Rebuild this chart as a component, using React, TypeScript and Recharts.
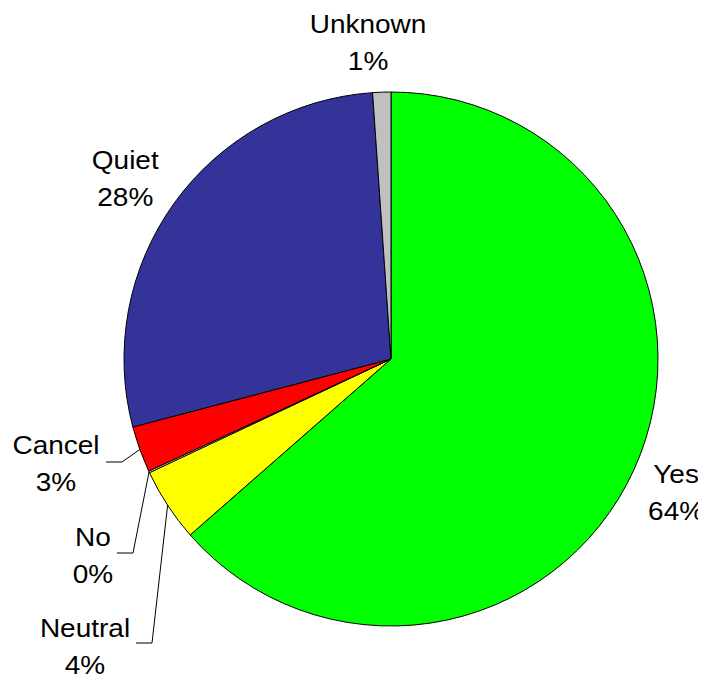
import React from 'react';
import { PieChart, Pie, Cell } from 'recharts';

const categories = ['Yes', 'Neutral', 'No', 'Cancel', 'Quiet', 'Unknown'];
const shares = [63.55, 4.45, 0.1, 2.8, 28.0, 1.1];
const colors = ['#00FF00', '#FFFF00', '#FFFFFF', '#FF0000', '#333399', '#C0C0C0'];

const data = categories.map((name, i) => ({ name, value: shares[i] }));

const RAD = Math.PI / 180;
const FONT = 25;
const SX = 1.12;
const LINE = 37;

type Layout = {
  gap?: number;
  nx?: number;
  ny?: number;
  elbow?: [number, number];
  hx?: number;
  text?: [number, number];
};

const labelLayout: Record<string, Layout> = {
  Yes: { gap: 46, nx: 0, ny: 4 },
  Quiet: { gap: 60, nx: 0, ny: 10 },
  Unknown: { gap: 50, nx: -12, ny: 0 },
  Cancel: { elbow: [-269, 103], hx: -285, text: [-335, 95] },
  No: { elbow: [-258, 194], hx: -274, text: [-298, 187] },
  Neutral: { elbow: [-239, 284], hx: -255, text: [-306, 278] },
};

const renderLabel = (props: any) => {
  const { cx, cy, midAngle, outerRadius, percent, index } = props;
  const name = categories[index];
  const L = labelLayout[name];
  const pct = `${Math.round(percent * 100)}%`;
  let tx: number;
  let ty: number;
  let line: React.ReactNode = null;
  if (L.elbow) {
    const sx = cx + outerRadius * Math.cos(-midAngle * RAD);
    const sy = cy + outerRadius * Math.sin(-midAngle * RAD);
    const ex = cx + L.elbow[0];
    const ey = cy + L.elbow[1];
    line = (
      <polyline
        points={`${sx},${sy} ${ex},${ey} ${cx + (L.hx as number)},${ey}`}
        fill="none"
        stroke="#000"
        strokeWidth={1}
      />
    );
    tx = cx + (L.text as [number, number])[0];
    ty = cy + (L.text as [number, number])[1];
  } else {
    const d = outerRadius + (L.gap as number);
    tx = cx + d * Math.cos(-midAngle * RAD) + (L.nx || 0);
    ty = cy + d * Math.sin(-midAngle * RAD) + (L.ny || 0) - 9.5;
  }
  return (
    <g key={`lbl-${index}`}>
      {line}
      <g transform={`translate(${tx},${ty}) scale(${SX},1)`}>
        <text
          x={0}
          y={0}
          textAnchor="middle"
          fontSize={FONT}
          fontFamily="'Liberation Sans', Arial, sans-serif"
          fill="#000"
        >
          <tspan x={0}>{name}</tspan>
          <tspan x={0} dy={LINE}>{pct}</tspan>
        </text>
      </g>
    </g>
  );
};

export default function App() {
  return (
    <PieChart width={698} height={668} margin={{ top: 0, right: 0, bottom: 0, left: 0 }}>
      <Pie
        data={data}
        dataKey="value"
        nameKey="name"
        cx={383}
        cy={351}
        outerRadius={267}
        startAngle={90}
        endAngle={-270}
        stroke="#000"
        strokeWidth={1}
        label={renderLabel}
        labelLine={false}
        isAnimationActive={false}
      >
        {data.map((d, i) => (
          <Cell key={d.name} fill={colors[i]} />
        ))}
      </Pie>
    </PieChart>
  );
}
